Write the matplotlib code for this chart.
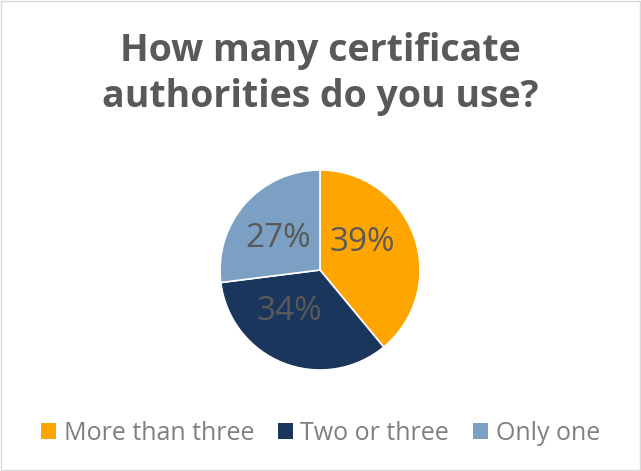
import matplotlib
matplotlib.use("Agg")
import matplotlib.pyplot as plt
from matplotlib.patches import Rectangle

title = "How many certificate\nauthorities do you use?"
categories = ["More than three", "Two or three", "Only one"]
values = [39, 34, 27]
colors = ["#FFA500", "#1B365D", "#7BA0C4"]
label_pos = [(0.42, 0.27), (-0.31, -0.42), (-0.42, 0.315)]

plt.rcParams['font.family'] = ['Open Sans', 'DejaVu Sans']

fig = plt.figure(figsize=(6.41, 4.71), dpi=100)
fig.patch.set_facecolor("white")
fig.add_artist(Rectangle((0.002, 0.002), 0.996, 0.996, transform=fig.transFigure,
                         fill=False, edgecolor="#D9D9D9", linewidth=1))

# pie centred at (320, 270) px, radius 100 px
cx, cy, r = 320 / 641, 1 - 270 / 471, 100
w = 2 * r / 641
h = 2 * r / 471
ax = fig.add_axes([cx - w / 2, cy - h / 2, w, h])
wedges, _ = ax.pie(values, colors=colors, startangle=90, counterclock=False,
                   wedgeprops=dict(edgecolor="white", linewidth=1.2))
ax.set_xlim(-1, 1)
ax.set_ylim(-1, 1)
ax.set_aspect("equal")
for v, (x, y) in zip(values, label_pos):
    ax.text(x, y, f"{v}%", ha="center", va="center", fontsize=24, color="#595959")

fig.text(0.5, 1 - 74 / 471, title, ha="center", va="center", fontsize=27,
         fontweight="bold", color="#595959", linespacing=1.3)

handles = [Rectangle((0, 0), 1, 1, facecolor=c) for c in colors]
leg = fig.legend(handles, categories, loc="center", bbox_to_anchor=(0.5, 1 - 433 / 471),
                 ncol=3, frameon=False, fontsize=18, handlelength=0.6, handleheight=0.6,
                 handletextpad=0.3, columnspacing=0.95)
for t in leg.get_texts():
    t.set_color("#7F7F7F")

fig.savefig("out.png", dpi=100)
